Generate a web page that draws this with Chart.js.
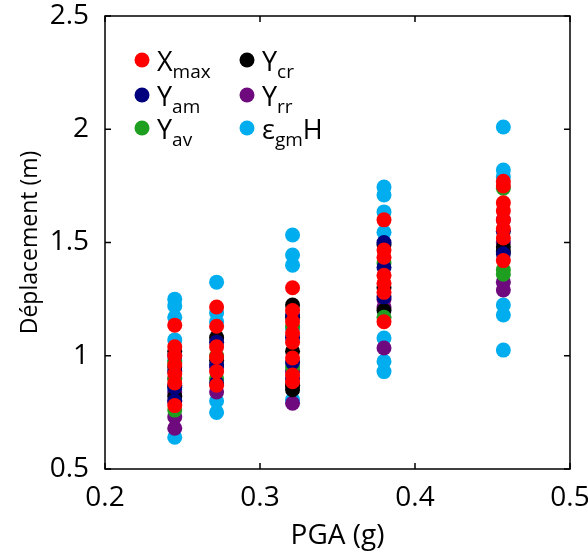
<!DOCTYPE html>
<html>
<head>
<meta charset="utf-8">
<script src="https://cdn.jsdelivr.net/npm/chart.js@4.4.0/dist/chart.umd.min.js"></script>
<style>
  body { margin: 0; background: #fff; }
  #wrap { width: 588px; height: 555px; }
</style>
</head>
<body>
<div id="wrap"><canvas id="pgaChart"></canvas></div>
<script>
// niveaux de PGA (g)
const pgaLevels = [0.245, 0.272, 0.321, 0.380, 0.457];

// déplacements (m), une liste par niveau de PGA
const xMax = [
  [1.135, 1.04, 1.0, 0.96, 0.92, 0.88, 0.78],
  [1.215, 1.13, 1.04, 0.995, 0.93, 0.87],
  [1.30, 1.20, 1.15, 1.10, 1.06, 0.99, 0.915, 0.885],
  [1.60, 1.467, 1.435, 1.355, 1.32, 1.28, 1.15],
  [1.77, 1.75, 1.675, 1.64, 1.60, 1.56, 1.52, 1.42]
];
const yAm = [
  [1.0, 0.93, 0.86, 0.80],
  [1.06, 0.96, 0.88],
  [1.18, 1.08, 0.97, 0.90],
  [1.50, 1.39, 1.26],
  [1.55, 1.45]
];
const yAv = [
  [0.97, 0.90, 0.76],
  [1.0, 0.90],
  [1.13, 0.95],
  [1.41, 1.17],
  [1.74, 1.38, 1.36]
];
const yCr = [
  [1.02, 0.95, 0.87, 0.82],
  [1.08, 0.98],
  [1.224, 1.17, 1.02, 0.87, 0.85],
  [1.49, 1.30, 1.20],
  [1.48, 1.46]
];
const yRr = [
  [0.90, 0.84, 0.80, 0.73, 0.68],
  [0.95, 0.84],
  [0.93, 0.87, 0.79],
  [1.25, 1.215, 1.034],
  [1.60, 1.50, 1.325, 1.29]
];
const egmH = [
  [1.25, 1.22, 1.17, 1.07, 0.98, 0.85, 0.64],
  [1.325, 1.19, 1.15, 0.80, 0.75],
  [1.533, 1.445, 1.40, 1.12, 0.805],
  [1.745, 1.71, 1.635, 1.545, 1.078, 0.975, 0.93],
  [2.01, 1.82, 1.79, 1.224, 1.18, 1.025]
];

const xTicks = [0.2, 0.3, 0.4, 0.5];
const yTicks = [0.5, 1, 1.5, 2, 2.5];

const police = '"Open Sans", "Noto Sans", sans-serif';

// transforme une série en points {x, y}
function toPoints(serie) {
  const pts = [];
  serie.forEach((vals, i) => vals.forEach(v => pts.push({ x: pgaLevels[i], y: v })));
  return pts;
}

// séries + texte de légende (lettre, indice, suffixe)
const series = [
  { data: xMax, color: '#ff0000', main: 'X', sub: 'max', after: '' },
  { data: yAm,  color: '#00007f', main: 'Y', sub: 'am',  after: '' },
  { data: yAv,  color: '#1f9f1f', main: 'Y', sub: 'av',  after: '' },
  { data: yCr,  color: '#000000', main: 'Y', sub: 'cr',  after: '' },
  { data: yRr,  color: '#6e0a7e', main: 'Y', sub: 'rr',  after: '' },
  { data: egmH, color: '#00aeef', main: 'ε', sub: 'gm',  after: 'H' }
];

// cadre avec graduations intérieures + légende à indices
const cadre = {
  id: 'cadre',
  afterDraw(chart) {
    const { ctx, chartArea: a, scales: { x, y } } = chart;
    ctx.save();
    ctx.strokeStyle = '#000';
    ctx.lineWidth = 1.5;
    ctx.strokeRect(a.left, a.top, a.right - a.left, a.bottom - a.top);
    ctx.beginPath();
    xTicks.forEach(t => {
      const px = x.getPixelForValue(t);
      ctx.moveTo(px, a.bottom); ctx.lineTo(px, a.bottom - 6);
      ctx.moveTo(px, a.top); ctx.lineTo(px, a.top + 6);
    });
    yTicks.forEach(t => {
      const py = y.getPixelForValue(t);
      ctx.moveTo(a.left, py); ctx.lineTo(a.left + 6, py);
      ctx.moveTo(a.right, py); ctx.lineTo(a.right - 6, py);
    });
    ctx.stroke();

    // légende en 2 colonnes
    const cols = [a.left + 37, a.left + 142];
    const rows = [a.top + 44, a.top + 79, a.top + 112];
    series.forEach((s, i) => {
      const cx = cols[Math.floor(i / 3)];
      const cy = rows[i % 3];
      ctx.fillStyle = s.color;
      ctx.beginPath();
      ctx.arc(cx, cy, 7.5, 0, Math.PI * 2);
      ctx.fill();
      ctx.fillStyle = '#000';
      ctx.textBaseline = 'alphabetic';
      ctx.font = '27px ' + police;
      let tx = cx + 15;
      ctx.fillText(s.main, tx, cy + 11);
      tx += ctx.measureText(s.main).width;
      ctx.font = '19px ' + police;
      ctx.fillText(s.sub, tx, cy + 18);
      tx += ctx.measureText(s.sub).width;
      if (s.after) {
        ctx.font = '27px ' + police;
        ctx.fillText(s.after, tx, cy + 11);
      }
    });
    ctx.restore();
  }
};

const ctx = document.getElementById('pgaChart').getContext('2d');
new Chart(ctx, {
  type: 'scatter',
  data: {
    datasets: series.map(s => ({
      label: s.main + s.sub + s.after,
      data: toPoints(s.data),
      backgroundColor: s.color,
      borderWidth: 0,
      pointRadius: 7.5,
      pointHoverRadius: 7.5
    }))
  },
  options: {
    responsive: true,
    maintainAspectRatio: false,
    animation: false,
    layout: { padding: { top: 16, right: 18, left: 0, bottom: 0 } },
    plugins: {
      legend: { display: false },
      tooltip: { enabled: false }
    },
    scales: {
      x: {
        type: 'linear',
        min: 0.2,
        max: 0.5,
        afterBuildTicks: s => { s.ticks = xTicks.map(v => ({ value: v })); },
        afterFit: s => { s.height = 86; s.paddingLeft = 0; s.paddingRight = 0; },
        grid: { display: false },
        border: { display: false },
        ticks: {
          color: '#000',
          font: { family: police, size: 28 },
          padding: 4,
          maxRotation: 0,
          callback: v => v.toFixed(1)
        },
        title: {
          display: true,
          text: 'PGA (g)',
          color: '#000',
          font: { family: police, size: 28 },
          padding: { top: 0, bottom: 2 }
        }
      },
      y: {
        min: 0.5,
        max: 2.5,
        afterBuildTicks: s => { s.ticks = yTicks.map(v => ({ value: v })); },
        afterFit: s => { s.width = 105; s.paddingTop = 0; s.paddingBottom = 0; },
        grid: { display: false },
        border: { display: false },
        ticks: {
          color: '#000',
          font: { family: police, size: 28 },
          padding: 8,
          callback: v => String(v)
        },
        title: {
          display: true,
          text: 'Déplacement (m)',
          color: '#000',
          font: { family: police, size: 23 },
          padding: { top: 17, bottom: 0 }
        }
      }
    }
  },
  plugins: [cadre]
});
</script>
</body>
</html>
